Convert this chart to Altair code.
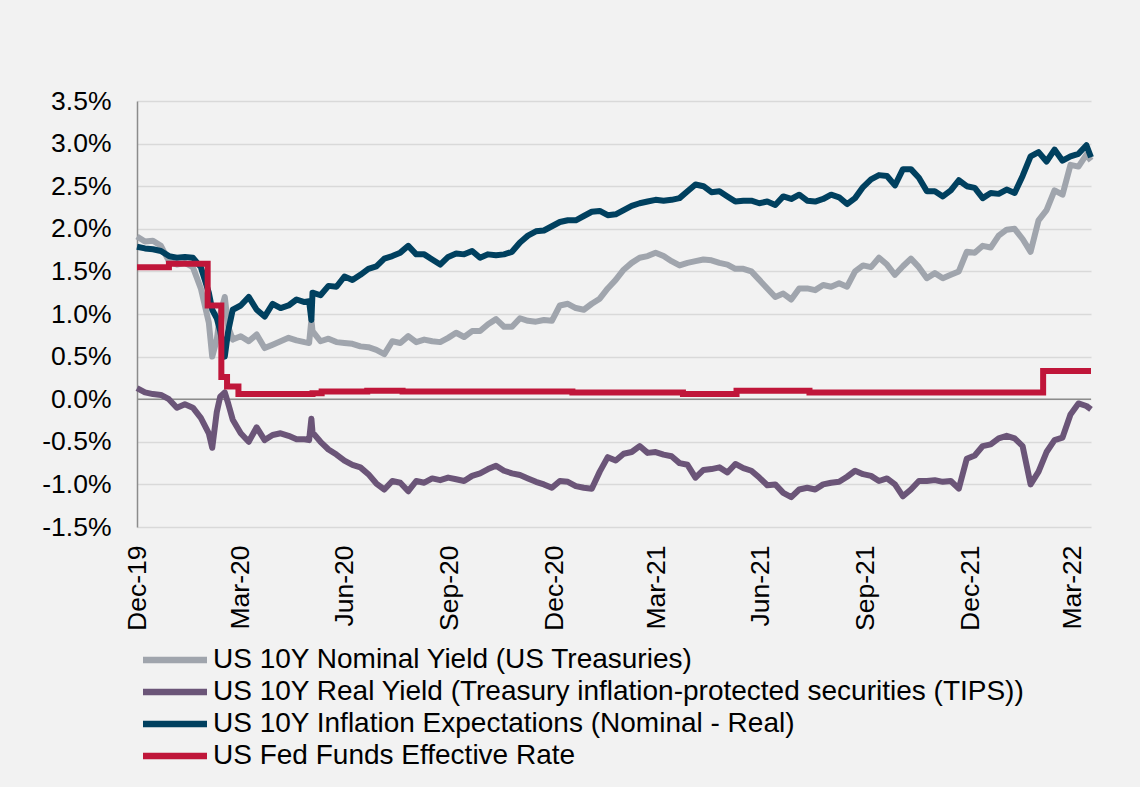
import altair as alt
import pandas as pd

# ---------------- data (percent) ----------------
week_start = "2019-12-31"
n_weeks = 120

nominal = [1.91, 1.85, 1.86, 1.80, 1.62, 1.58, 1.60, 1.55, 1.30, 0.90,
           0.70, 1.20, 0.70, 0.74, 0.68, 0.76, 0.60, 0.64, 0.68, 0.72,
           0.69, 0.67, 0.80, 0.68, 0.71, 0.67, 0.66, 0.65, 0.62, 0.61,
           0.58, 0.53, 0.68, 0.66, 0.74, 0.67, 0.70, 0.68, 0.67, 0.72,
           0.78, 0.73, 0.80, 0.80, 0.88, 0.94, 0.85, 0.85, 0.95, 0.92,
           0.91, 0.93, 0.92, 1.10, 1.12, 1.07, 1.05, 1.12, 1.18, 1.30,
           1.40, 1.52, 1.60, 1.66, 1.68, 1.72, 1.68, 1.62, 1.57, 1.60,
           1.62, 1.64, 1.63, 1.60, 1.58, 1.53, 1.53, 1.50, 1.40, 1.30,
           1.20, 1.24, 1.17, 1.30, 1.30, 1.28, 1.34, 1.32, 1.36, 1.32,
           1.50, 1.57, 1.55, 1.66, 1.58, 1.46, 1.56, 1.65, 1.55, 1.42,
           1.48, 1.42, 1.46, 1.50, 1.73, 1.72, 1.80, 1.78, 1.92, 1.99,
           2.00, 1.88, 1.73, 2.10, 2.22, 2.45, 2.40, 2.75, 2.73, 2.87]

real = [0.13, 0.08, 0.06, 0.05, 0.00, -0.10, -0.06, -0.10, -0.22, -0.40,
        -0.15, 0.08, -0.24, -0.40, -0.50, -0.33, -0.48, -0.42, -0.40, -0.43,
        -0.47, -0.47, -0.39, -0.50, -0.59, -0.65, -0.72, -0.77, -0.80, -0.88,
        -0.99, -1.06, -0.96, -0.98, -1.08, -0.96, -0.98, -0.93, -0.95, -0.92,
        -0.94, -0.96, -0.90, -0.87, -0.82, -0.78, -0.84, -0.87, -0.89, -0.93,
        -0.97, -1.00, -1.04, -0.96, -0.97, -1.02, -1.04, -1.05, -0.85, -0.68,
        -0.72, -0.64, -0.62, -0.55, -0.63, -0.62, -0.65, -0.67, -0.75, -0.77,
        -0.92, -0.83, -0.82, -0.80, -0.86, -0.76, -0.81, -0.84, -0.92, -1.01,
        -1.00, -1.10, -1.15, -1.06, -1.04, -1.06, -1.00, -0.98, -0.97, -0.91,
        -0.84, -0.88, -0.90, -0.96, -0.93, -1.00, -1.14, -1.06, -0.96, -0.96,
        -0.95, -0.97, -0.96, -1.05, -0.70, -0.66, -0.55, -0.53, -0.46, -0.43,
        -0.46, -0.55, -1.00, -0.85, -0.62, -0.48, -0.45, -0.18, -0.05, -0.08]

inflation = [1.79, 1.77, 1.76, 1.74, 1.68, 1.66, 1.67, 1.66, 1.55, 1.25,
             0.95, 0.50, 1.05, 1.10, 1.20, 1.05, 0.97, 1.12, 1.07, 1.10,
             1.17, 1.14, 1.25, 1.22, 1.33, 1.32, 1.44, 1.40, 1.46, 1.53,
             1.56, 1.65, 1.68, 1.72, 1.80, 1.70, 1.70, 1.64, 1.58, 1.67,
             1.71, 1.70, 1.74, 1.66, 1.70, 1.69, 1.70, 1.73, 1.84, 1.92,
             1.97, 1.98, 2.03, 2.08, 2.10, 2.10, 2.15, 2.20, 2.21, 2.16,
             2.17, 2.22, 2.27, 2.30, 2.32, 2.34, 2.33, 2.34, 2.36, 2.44,
             2.52, 2.50, 2.43, 2.44, 2.38, 2.32, 2.33, 2.33, 2.30, 2.32,
             2.28, 2.38, 2.35, 2.40, 2.33, 2.32, 2.35, 2.40, 2.37, 2.29,
             2.36, 2.49, 2.58, 2.63, 2.62, 2.51, 2.70, 2.70, 2.60, 2.44,
             2.44, 2.38, 2.45, 2.57, 2.50, 2.48, 2.36, 2.42, 2.41, 2.46,
             2.42, 2.62, 2.85, 2.90, 2.79, 2.93, 2.80, 2.85, 2.88, 2.98]

# extra observations around the sharp moves and the last point
extra_dates = ["2020-03-06", "2020-03-13", "2020-03-20", "2020-05-30", "2020-06-01", "2022-04-16"]
nominal_extra = [0.50, 1.00, 0.85, 0.66, 0.93, 2.80]
real_extra = [-0.57, 0.03, -0.05, -0.48, -0.23, -0.12]
inflation_extra = [1.05, 0.80, 0.80, 1.15, 0.93, 2.84]

# fed funds effective rate (step series)
fed_dates = ["2019-12-31", "2020-01-28", "2020-03-02", "2020-03-14", "2020-03-19",
             "2020-03-29", "2020-06-02", "2020-06-10", "2020-07-20", "2020-08-20",
             "2021-01-16", "2021-04-23", "2021-06-09", "2021-08-12", "2022-03-05",
             "2022-04-16"]
fed_values = [1.55, 1.59, 1.10, 0.26, 0.15,
              0.06, 0.07, 0.09, 0.10, 0.09,
              0.08, 0.06, 0.10, 0.08, 0.33,
              0.33]

series_names = [
    "US 10Y Nominal Yield (US Treasuries)",
    "US 10Y Real Yield (Treasury inflation-protected securities (TIPS))",
    "US 10Y Inflation Expectations (Nominal - Real)",
    "US Fed Funds Effective Rate",
]
series_colors = ["#a0a5ad", "#6b5578", "#00405f", "#c0163a"]

y_ticks = [-1.5, -1.0, -0.5, 0.0, 0.5, 1.0, 1.5, 2.0, 2.5, 3.0, 3.5]
x_tick_dates = [(2019, 12, 31), (2020, 3, 31), (2020, 6, 30), (2020, 9, 30), (2020, 12, 31),
                (2021, 3, 31), (2021, 6, 30), (2021, 9, 30), (2021, 12, 31), (2022, 3, 31)]

# ---------------- build tables ----------------
weekly_dates = [d.strftime("%Y-%m-%d") for d in pd.date_range(week_start, periods=n_weeks, freq="7D")]

rows = []
for name, weekly, extra in [(series_names[0], nominal, nominal_extra),
                            (series_names[1], real, real_extra),
                            (series_names[2], inflation, inflation_extra)]:
    part = pd.DataFrame({"date": weekly_dates + extra_dates, "value": weekly + extra})
    part = part.sort_values("date")
    part["series"] = name
    rows.append(part)
yields_df = pd.concat(rows, ignore_index=True)

fed_df = pd.DataFrame({"date": fed_dates, "value": fed_values, "series": series_names[3]})
zero_df = pd.DataFrame({"v": [0.0]})

FONT = "Liberation Sans"

x_enc = alt.X(
    "date:T",
    title=None,
    scale=alt.Scale(type="utc",
                    domain=[alt.DateTime(year=2019, month=12, date=31, utc=True),
                            alt.DateTime(year=2022, month=4, date=16, utc=True)]),
    axis=alt.Axis(
        values=[alt.DateTime(year=a, month=b, date=c, utc=True) for a, b, c in x_tick_dates],
        labelExpr="utcFormat(datum.value, '%b-%y')",
        labelAngle=270, labelAlign="right", labelBaseline="middle",
        labelFont=FONT, labelFontSize=26.5, labelColor="#000000",
        labelPadding=18, ticks=False, domain=False, grid=False, labelOverlap=False,
    ),
)

y_enc = alt.Y(
    "value:Q",
    title=None,
    scale=alt.Scale(domain=[-1.5, 3.5], nice=False, zero=False),
    axis=alt.Axis(
        values=y_ticks,
        labelExpr="(datum.value < 0 ? '-' : '') + format(abs(datum.value), '.1f') + '%'",
        labelFont=FONT, labelFontSize=26.5, labelColor="#000000",
        labelPadding=26, ticks=False, domain=True, domainColor="#8c8c8c", domainWidth=1.5,
        grid=True, gridColor="#d9d9d9", gridWidth=1.3,
    ),
)

color_enc = alt.Color(
    "series:N",
    scale=alt.Scale(domain=series_names, range=series_colors),
    legend=alt.Legend(
        title=None, orient="none", legendX=24, legendY=545, direction="vertical",
        symbolType="M-4,0H4", symbolSize=256, symbolStrokeWidth=6.5,
        labelFont=FONT, labelFontSize=28, labelColor="#000000", labelLimit=1200,
        labelOffset=24, rowPadding=4,
    ),
)

zero_rule = alt.Chart(zero_df).mark_rule(color="#8c8c8c", strokeWidth=1.5).encode(y="v:Q")

yield_lines = alt.Chart(yields_df).mark_line(strokeWidth=6, strokeJoin="round").encode(
    x=x_enc, y=y_enc, color=color_enc, detail="series:N"
)

fed_line = alt.Chart(fed_df).mark_line(strokeWidth=6, interpolate="step-after").encode(
    x=x_enc, y=y_enc, color=color_enc
)

chart = alt.layer(zero_rule, yield_lines, fed_line).properties(
    width=954, height=426,
    autosize=alt.AutoSizeParams(type="none"),
    padding={"left": 137, "top": 101, "right": 49, "bottom": 260},
    background="#f2f2f2",
).configure_view(stroke=None)

chart.save("out.html", embed_options={"renderer": "svg", "actions": False})
